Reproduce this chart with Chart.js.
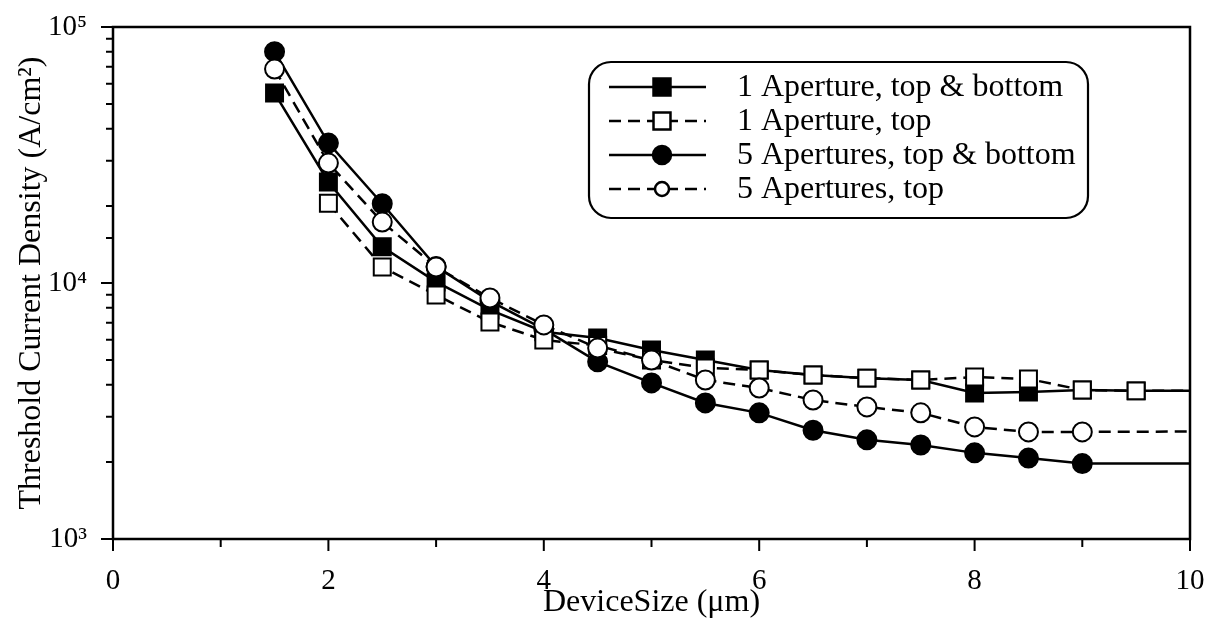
<!DOCTYPE html>
<html><head><meta charset="utf-8">
<script src="https://cdn.jsdelivr.net/npm/chart.js@4/dist/chart.umd.min.js"></script>
<style>html,body{margin:0;padding:0;background:#fff}#wrap{width:1206px;height:622px;position:relative}</style>
</head><body><div id="wrap"><canvas id="c"></canvas></div>
<script>
// ---- data ----
const seriesLabels = ['1 Aperture, top & bottom', '1 Aperture, top', '5 Apertures, top & bottom', '5 Apertures, top'];
const sizeOneTB   = [1.5, 2, 2.5, 3, 3.5, 4, 4.5, 5, 5.5, 6, 6.5, 7, 7.5, 8, 8.5, 9, 9.5, 10];
const valOneTB    = [55200, 24800, 13850, 10100, 7850, 6450, 6100, 5470, 5000, 4570, 4370, 4250, 4180, 3720, 3750, 3820, 3790, 3790];
const sizeOneTop  = [2, 2.5, 3, 3.5, 4, 4.5, 5, 5.5, 6, 6.5, 7, 7.5, 8, 8.5, 9, 9.5, 10];
const valOneTop   = [20500, 11550, 8980, 7040, 5990, 5700, 5000, 4660, 4570, 4370, 4250, 4180, 4290, 4220, 3820, 3790, 3790];
const sizeFiveTB  = [1.5, 2, 2.5, 3, 3.5, 4, 4.5, 5, 5.5, 6, 6.5, 7, 7.5, 8, 8.5, 9, 10];
const valFiveTB   = [80100, 35200, 20400, 11600, 8500, 6600, 4920, 4070, 3400, 3110, 2660, 2440, 2330, 2170, 2070, 1970, 1970];
const sizeFiveTop = [1.5, 2, 2.5, 3, 3.5, 4, 4.5, 5, 5.5, 6, 6.5, 7, 7.5, 8, 8.5, 9, 10];
const valFiveTop  = [68500, 29400, 17300, 11550, 8740, 6860, 5570, 5000, 4180, 3890, 3490, 3280, 3110, 2740, 2620, 2620, 2630];
const xTickValues = [0, 2, 4, 6, 8, 10];
const yTickValues = [1000, 10000, 100000];
const yTickLabels = ['10\u00B3', '10\u2074', '10\u2075'];
const xTitle = 'DeviceSize (\u03BCm)';
const yTitle = 'Threshold Current Density (A/cm\u00B2)';

// ---- styles ----
const SERIF = '"Liberation Serif", "Times New Roman", serif';
const pts = (xs, ys) => xs.map((v, i) => ({x: v, y: ys[i]}));
const edgeless = r => c => (c.raw && c.raw.x >= 10 ? 0 : r);

function makeSet(i, xs, ys, filled, square, dashed, order) {
  const r = square ? 12 : 9.5;
  return {
    label: seriesLabels[i],
    data: pts(xs, ys),
    borderColor: '#000',
    borderWidth: 2.5,
    borderDash: dashed ? [12, 7] : [],
    pointStyle: square ? 'rect' : 'circle',
    pointRadius: edgeless(r),
    pointHoverRadius: edgeless(r),
    pointBorderWidth: 2,
    pointBorderColor: '#000',
    pointBackgroundColor: filled ? '#000' : '#fff',
    tension: 0,
    fill: false,
    order: order,
    legendRadius: square ? 12 : (filled ? 9 : 7)
  };
}

const legendPlugin = {
  id: 'boxLegend',
  afterDatasetsDraw(chart) {
    const ctx = chart.ctx;
    const L = 589, T = 62, R = 1088, B = 218, rad = 22;
    ctx.save();
    ctx.beginPath();
    ctx.moveTo(L + rad, T);
    ctx.arcTo(R, T, R, B, rad);
    ctx.arcTo(R, B, L, B, rad);
    ctx.arcTo(L, B, L, T, rad);
    ctx.arcTo(L, T, R, T, rad);
    ctx.closePath();
    ctx.fillStyle = '#fff';
    ctx.fill();
    ctx.lineWidth = 2.2;
    ctx.strokeStyle = '#000';
    ctx.stroke();
    chart.data.datasets.forEach((ds, i) => {
      const yc = T + 25 + 34 * i;
      ctx.setLineDash(ds.borderDash);
      ctx.lineWidth = 2.5;
      ctx.beginPath();
      ctx.moveTo(609, yc);
      ctx.lineTo(706, yc);
      ctx.stroke();
      ctx.setLineDash([]);
      ctx.fillStyle = ds.pointBackgroundColor;
      ctx.strokeStyle = '#000';
      Chart.helpers.drawPoint(ctx, {pointStyle: ds.pointStyle, rotation: 0, radius: ds.legendRadius, borderWidth: 2}, 662, yc);
      ctx.fillStyle = '#000';
      ctx.font = '32px ' + SERIF;
      ctx.textBaseline = 'middle';
      ctx.textAlign = 'left';
      ctx.fillText(ds.label, 737, yc + 1);
    });
    ctx.restore();
  }
};

const framePlugin = {
  id: 'frameTicks',
  afterDraw(chart) {
    const {ctx, chartArea: a, scales} = chart;
    const x = scales.x, y = scales.y;
    ctx.save();
    ctx.strokeStyle = '#000';
    ctx.lineWidth = 2.5;
    ctx.strokeRect(a.left, a.top, a.right - a.left, a.bottom - a.top);
    ctx.lineWidth = 2;
    ctx.beginPath();
    y.ticks.forEach(t => {
      const p = y.getPixelForValue(t.value);
      const lg = Math.log10(t.value);
      const len = Math.abs(lg - Math.round(lg)) < 1e-6 ? 12 : 7;
      ctx.moveTo(a.left - len, p); ctx.lineTo(a.left, p);
    });
    x.ticks.forEach(t => {
      const p = x.getPixelForValue(t.value);
      const len = xTickValues.includes(t.value) ? 12 : 8;
      ctx.moveTo(p, a.bottom); ctx.lineTo(p, a.bottom + len);
    });
    ctx.stroke();
    ctx.restore();
  }
};

new Chart(document.getElementById('c'), {
  type: 'line',
  data: {
    datasets: [
      makeSet(0, sizeOneTB, valOneTB, true, true, false, 4),
      makeSet(1, sizeOneTop, valOneTop, false, true, true, 2),
      makeSet(2, sizeFiveTB, valFiveTB, true, false, false, 3),
      makeSet(3, sizeFiveTop, valFiveTop, false, false, true, 1)
    ]
  },
  options: {
    responsive: true,
    maintainAspectRatio: false,
    animation: false,
    layout: {padding: {top: 27, right: 16, left: 0, bottom: 0}},
    plugins: {legend: {display: false}, tooltip: {enabled: false}},
    scales: {
      x: {
        type: 'linear', min: 0, max: 10,
        grid: {display: false}, border: {display: false},
        ticks: {
          stepSize: 1, autoSkip: false, maxRotation: 0, color: '#000', padding: 17,
          font: {family: SERIF, size: 29},
          callback: v => (xTickValues.includes(v) ? String(v) : '')
        },
        title: {display: true, text: xTitle, color: '#000', font: {family: SERIF, size: 32}, padding: {top: 0, bottom: 0}},
        afterFit: s => { s.height = 83; s.paddingLeft = 0; s.paddingRight = 0; }
      },
      y: {
        type: 'logarithmic', min: 1000, max: 100000,
        grid: {display: false}, border: {display: false},
        ticks: {
          autoSkip: false, color: '#000', padding: 18,
          font: {family: SERIF, size: 29},
          callback: v => { const k = yTickValues.indexOf(v); return k >= 0 ? yTickLabels[k] : ''; }
        },
        title: {display: true, text: yTitle, color: '#000', font: {family: SERIF, size: 32}, padding: {top: 12, bottom: 0}},
        afterFit: s => { s.width = 113; s.paddingTop = 0; s.paddingBottom = 0; }
      }
    }
  },
  plugins: [framePlugin, legendPlugin]
});
</script></body></html>
